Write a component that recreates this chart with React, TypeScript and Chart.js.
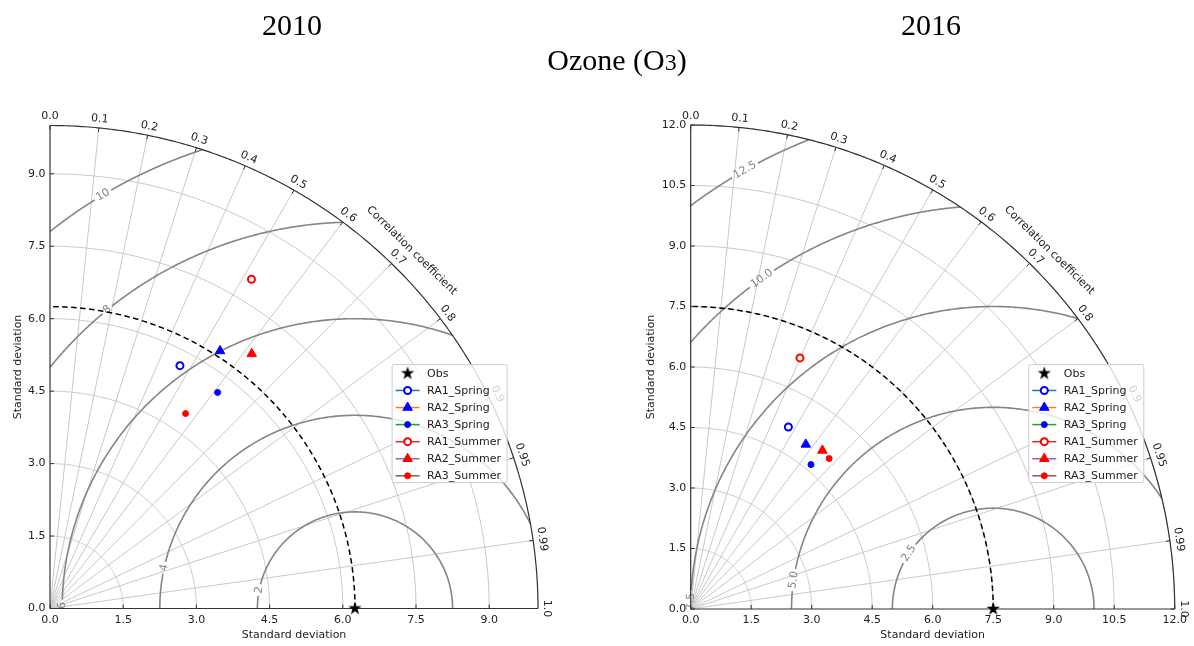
import React, { useEffect, useRef } from "react";
import { Chart, registerables } from "chart.js";
Chart.register(...registerables);

// ---------------- data ----------------
const SERIES_NAMES = ["RA1_Spring", "RA2_Spring", "RA3_Spring", "RA1_Summer", "RA2_Summer", "RA3_Summer"];
const OBS_NAME = "Obs";

const STD_2010 = [5.69, 6.37, 5.64, 7.97, 6.7, 4.9];
const CORR_2010 = [0.468, 0.547, 0.609, 0.518, 0.617, 0.567];
const OBS_STD_2010 = 6.25;

const STD_2016 = [5.12, 4.98, 4.66, 6.79, 5.11, 5.07];
const CORR_2016 = [0.473, 0.573, 0.64, 0.399, 0.639, 0.677];
const OBS_STD_2016 = 7.5;

const CORR_TICKS = [0, 0.1, 0.2, 0.3, 0.4, 0.5, 0.6, 0.7, 0.8, 0.9, 0.95, 0.99, 1.0];
const CORR_TICK_TEXT = ["0.0", "0.1", "0.2", "0.3", "0.4", "0.5", "0.6", "0.7", "0.8", "0.9", "0.95", "0.99", "1.0"];

const STD_MAX_2010 = 10;
const STD_TICKS_2010 = [0, 1.5, 3.0, 4.5, 6.0, 7.5, 9.0];
const STD_MAX_2016 = 12;
const STD_TICKS_2016 = [0, 1.5, 3.0, 4.5, 6.0, 7.5, 9.0, 10.5, 12.0];

const RMS_LEVELS_2010 = [2, 4, 6, 8, 10];
const RMS_TEXT_2010 = ["2", "4", "6", "8", "10"];
const RMS_LEVELS_2016 = [2.5, 5.0, 7.5, 10.0, 12.5];
const RMS_TEXT_2016 = ["2.5", "5.0", "7.5", "10.0", "12.5"];

const TITLE_LEFT = "2010";
const TITLE_RIGHT = "2016";
const AXIS_TITLE = "Standard deviation";
const CORR_TITLE = "Correlation coefficient";

// ---------------- styles ----------------
const MARKER_SHAPES = ["ring", "triangle", "dot", "ring", "triangle", "dot"];
const MARKER_COLORS = ["#0000ff", "#0000ff", "#0000ff", "#ff0000", "#ff0000", "#ff0000"];
const LINE_COLORS = ["#1f77b4", "#ff7f0e", "#2ca02c", "#d62728", "#9467bd", "#8c564b"];

const W = 597;
const H = 646;
const FONT = "11px 'DejaVu Sans', sans-serif";
const TEXT_COLOR = "#222";
const GRID_COLOR = "#c8c8c8";
const CONTOUR_COLOR = "#858585";
const AXIS_COLOR = "#333333";

const CFG_2010 = {
  key: "2010",
  canvasLeft: 0,
  area: { left: 50, right: 538, top: 125.5, bottom: 608.5 },
  yTitleX: 18,
  max: STD_MAX_2010,
  stdTicks: STD_TICKS_2010,
  obs: OBS_STD_2010,
  std: STD_2010,
  corr: CORR_2010,
  rmsLevels: RMS_LEVELS_2010,
  rmsText: RMS_TEXT_2010,
  rmsLabelAngles: [169, 167.8, 179.4, 129.4, 121.1],
  legendFx: 0.7,
  legendFy: 0.506,
};

const CFG_2016 = {
  key: "2016",
  canvasLeft: 597,
  area: { left: 93.7, right: 577.7, top: 125, bottom: 609 },
  yTitleX: 54,
  max: STD_MAX_2016,
  stdTicks: STD_TICKS_2016,
  obs: OBS_STD_2016,
  std: STD_2016,
  corr: CORR_2016,
  rmsLevels: RMS_LEVELS_2016,
  rmsText: RMS_TEXT_2016,
  rmsLabelAngles: [146.6, 171.7, 178.6, 125, 119.5],
  legendFx: 0.6975,
  legendFy: 0.506,
};

function makeStar(size: number, outer: number, inner: number, color: string) {
  const c = document.createElement("canvas");
  c.width = size;
  c.height = size;
  const g = c.getContext("2d")!;
  g.fillStyle = color;
  g.beginPath();
  for (let i = 0; i < 10; i++) {
    const r = i % 2 === 0 ? outer : inner;
    const a = -Math.PI / 2 + (i * Math.PI) / 5;
    const x = size / 2 + r * Math.cos(a);
    const y = size / 2 + r * Math.sin(a);
    if (i === 0) g.moveTo(x, y);
    else g.lineTo(x, y);
  }
  g.closePath();
  g.fill();
  return c;
}

function drawMarker(ctx: CanvasRenderingContext2D, shape: string, color: string, x: number, y: number, star: HTMLCanvasElement) {
  ctx.save();
  if (shape === "star") {
    ctx.drawImage(star, x - star.width / 2, y - star.height / 2);
  } else if (shape === "ring") {
    ctx.beginPath();
    ctx.arc(x, y, 3.5, 0, Math.PI * 2);
    ctx.fillStyle = "#fff";
    ctx.fill();
    ctx.lineWidth = 2;
    ctx.strokeStyle = color;
    ctx.stroke();
  } else if (shape === "triangle") {
    const r = 5.5;
    ctx.beginPath();
    ctx.moveTo(x, y - r);
    ctx.lineTo(x + r * Math.sin((2 * Math.PI) / 3), y - r * Math.cos((2 * Math.PI) / 3));
    ctx.lineTo(x + r * Math.sin((4 * Math.PI) / 3), y - r * Math.cos((4 * Math.PI) / 3));
    ctx.closePath();
    ctx.fillStyle = color;
    ctx.fill();
    ctx.lineWidth = 1;
    ctx.strokeStyle = color;
    ctx.stroke();
  } else {
    ctx.beginPath();
    ctx.arc(x, y, 3, 0, Math.PI * 2);
    ctx.fillStyle = color;
    ctx.fill();
    ctx.lineWidth = 1;
    ctx.strokeStyle = color;
    ctx.stroke();
  }
  ctx.restore();
}

function makeTaylorPlugin(cfg: any, star: HTMLCanvasElement) {
  return {
    id: "taylor" + cfg.key,
    beforeDatasetsDraw(chart: any) {
      const ctx: CanvasRenderingContext2D = chart.ctx;
      const xs = chart.scales.x;
      const ys = chart.scales.y;
      const R = cfg.max;
      const sx = (xs.right - xs.left) / R;
      const sy = (ys.bottom - ys.top) / R;
      const P = (x: number, y: number) => [xs.getPixelForValue(x), ys.getPixelForValue(y)];
      const polyline = (pts: number[][]) => {
        ctx.beginPath();
        pts.forEach(([a, b], i) => (i ? ctx.lineTo(a, b) : ctx.moveTo(a, b)));
        ctx.stroke();
      };
      const arcPts = (cx: number, r: number, a0: number, a1: number, n: number) => {
        const pts: number[][] = [];
        for (let i = 0; i <= n; i++) {
          const a = a0 + ((a1 - a0) * i) / n;
          pts.push(P(cx + r * Math.cos(a), r * Math.sin(a)));
        }
        return pts;
      };

      ctx.save();
      // std-dev grid arcs
      ctx.strokeStyle = GRID_COLOR;
      ctx.lineWidth = 1;
      cfg.stdTicks.forEach((s: number) => {
        if (s <= 0) return;
        polyline(arcPts(0, s, 0, Math.PI / 2, 180));
      });
      // radial correlation lines
      CORR_TICKS.forEach((c) => {
        if (c <= 0 || c >= 1) return;
        const t = Math.acos(c);
        polyline([P(0, 0), P(R * Math.cos(t), R * Math.sin(t))]);
      });

      // RMS contours
      ctx.font = FONT;
      ctx.strokeStyle = CONTOUR_COLOR;
      ctx.lineWidth = 1.6;
      const obs = cfg.obs;
      const pxu = (sx + sy) / 2;
      cfg.rmsLevels.forEach((r: number, k: number) => {
        const text = cfg.rmsText[k];
        const cmin = (R * R - obs * obs - r * r) / (2 * obs * r);
        const phiMin = cmin >= 1 ? 0 : cmin <= -1 ? Math.PI : Math.acos(cmin);
        const cmax = -obs / r;
        const phiMax = cmax <= -1 ? Math.PI : Math.acos(cmax);
        const lab = (cfg.rmsLabelAngles[k] * Math.PI) / 180;
        const tw = ctx.measureText(text).width;
        const gap = (tw / 2 + 2.5) / (r * pxu);
        const segs = [
          [phiMin, Math.min(phiMax, lab - gap)],
          [Math.max(phiMin, lab + gap), phiMax],
        ];
        segs.forEach(([a, b]) => {
          if (b > a) polyline(arcPts(obs, r, a, b, 240));
        });
        const [lx, ly] = P(obs + r * Math.cos(lab), r * Math.sin(lab));
        let ang = Math.atan2(-Math.cos(lab) * sy, -Math.sin(lab) * sx);
        if (ang > Math.PI / 2) ang -= Math.PI;
        if (ang < -Math.PI / 2) ang += Math.PI;
        ctx.save();
        ctx.translate(lx, ly);
        ctx.rotate(ang);
        ctx.fillStyle = CONTOUR_COLOR;
        ctx.textAlign = "center";
        ctx.textBaseline = "middle";
        ctx.fillText(text, 0, 0);
        ctx.restore();
      });

      // dashed reference arc
      ctx.strokeStyle = "#000";
      ctx.lineWidth = 1.5;
      ctx.setLineDash([5.5, 3.5]);
      polyline(arcPts(0, obs, 0, Math.PI / 2, 180));
      ctx.setLineDash([]);

      // outer arc and axes
      ctx.strokeStyle = AXIS_COLOR;
      ctx.lineWidth = 1.2;
      polyline(arcPts(0, R, 0, Math.PI / 2, 240));
      polyline([P(0, 0), P(R, 0)]);
      polyline([P(0, 0), P(0, R)]);

      // inward ticks
      ctx.lineWidth = 1;
      cfg.stdTicks.forEach((v: number) => {
        const [x0, y0] = P(v, 0);
        polyline([[x0, y0], [x0, y0 - 4]]);
        const [x1, y1] = P(0, v);
        polyline([[x1, y1], [x1 + 4, y1]]);
      });
      ctx.fillStyle = TEXT_COLOR;
      ctx.textAlign = "center";
      ctx.textBaseline = "middle";
      CORR_TICKS.forEach((c, i) => {
        const t = Math.acos(c);
        const [px, py] = P(R * Math.cos(t), R * Math.sin(t));
        const nx = Math.cos(t);
        const ny = -Math.sin(t);
        polyline([[px, py], [px - nx * 4, py - ny * 4]]);
        ctx.save();
        ctx.translate(px + nx * 9, py + ny * 9);
        ctx.rotate(Math.PI / 2 - t);
        ctx.fillText(CORR_TICK_TEXT[i], 0, 0);
        ctx.restore();
      });

      // correlation title
      const ct = Math.PI / 4;
      const [tx, ty] = P(1.048 * R * Math.cos(ct), 1.048 * R * Math.sin(ct));
      ctx.save();
      ctx.translate(tx, ty);
      ctx.rotate((44.5 * Math.PI) / 180);
      ctx.fillText(CORR_TITLE, 0, 0);
      ctx.restore();
      ctx.restore();
    },
    afterDatasetsDraw(chart: any) {
      const ctx: CanvasRenderingContext2D = chart.ctx;
      const ca = chart.chartArea;
      const lx = ca.left + cfg.legendFx * (ca.right - ca.left);
      const ly = ca.bottom - cfg.legendFy * (ca.bottom - ca.top);
      const w = 115;
      const h = 118;
      ctx.save();
      ctx.beginPath();
      ctx.roundRect(lx + 0.5, ly + 0.5, w, h, 2);
      ctx.fillStyle = "rgba(255,255,255,0.8)";
      ctx.fill();
      ctx.strokeStyle = "#cccccc";
      ctx.lineWidth = 1;
      ctx.stroke();
      ctx.font = FONT;
      ctx.textAlign = "left";
      ctx.textBaseline = "middle";
      chart.data.datasets.forEach((ds: any, i: number) => {
        const cy = ly + 9.3 + i * 17.07;
        if (ds.legendLine) {
          ctx.strokeStyle = ds.legendLine;
          ctx.lineWidth = 1.5;
          ctx.beginPath();
          ctx.moveTo(lx + 4, cy);
          ctx.lineTo(lx + 28, cy);
          ctx.stroke();
        }
        drawMarker(ctx, ds.legendShape, ds.legendColor, lx + 16, cy, star);
        ctx.fillStyle = TEXT_COLOR;
        ctx.fillText(ds.label, lx + 35.5, cy + 0.5);
      });
      ctx.restore();
    },
  };
}

function TaylorChart({ cfg }: { cfg: any }) {
  const ref = useRef<HTMLCanvasElement>(null);
  useEffect(() => {
    const canvas = ref.current!;
    const star = makeStar(16, 7, 2.7, "#000");
    const area = cfg.area;
    const yAxisW = 50;
    const padLeft = area.left - yAxisW;
    const padRight = W - area.right;
    const xAxisH = H - area.bottom;
    const yTitlePad = Math.max(0, cfg.yTitleX - padLeft - 6.6);

    const datasets: any[] = [
      {
        label: OBS_NAME,
        data: [{ x: cfg.obs, y: 0 }],
        pointStyle: star,
        pointRadius: 7,
        clip: false,
        legendShape: "star",
        legendColor: "#000",
        legendLine: null,
      },
    ];
    SERIES_NAMES.forEach((name, i) => {
      const s = cfg.std[i];
      const c = cfg.corr[i];
      const shape = MARKER_SHAPES[i];
      const col = MARKER_COLORS[i];
      const base: any = {
        label: name,
        data: [{ x: s * c, y: s * Math.sqrt(1 - c * c) }],
        clip: false,
        legendShape: shape,
        legendColor: col,
        legendLine: LINE_COLORS[i],
        borderColor: col,
        pointBorderColor: col,
      };
      if (shape === "ring") {
        Object.assign(base, { pointStyle: "circle", pointRadius: 3.5, pointBorderWidth: 2, borderWidth: 2, pointBackgroundColor: "#fff", backgroundColor: "#fff" });
      } else if (shape === "triangle") {
        Object.assign(base, { pointStyle: "triangle", pointRadius: 5.5, pointBorderWidth: 1, borderWidth: 1, pointBackgroundColor: col, backgroundColor: col });
      } else {
        Object.assign(base, { pointStyle: "circle", pointRadius: 3, pointBorderWidth: 1, borderWidth: 1, pointBackgroundColor: col, backgroundColor: col });
      }
      datasets.push(base);
    });

    const tickFont = { family: "'DejaVu Sans', sans-serif", size: 11 };
    const chart = new Chart(canvas, {
      type: "scatter",
      data: { datasets },
      options: {
        responsive: false,
        animation: false,
        devicePixelRatio: 1,
        events: [],
        layout: { padding: { left: padLeft, right: padRight, top: area.top, bottom: 0 } },
        plugins: { legend: { display: false }, tooltip: { enabled: false }, title: { display: false } },
        scales: {
          x: {
            type: "linear",
            min: 0,
            max: cfg.max,
            afterBuildTicks: (s: any) => {
              s.ticks = cfg.stdTicks.map((v: number) => ({ value: v }));
            },
            afterFit: (s: any) => {
              s.height = xAxisH;
            },
            grid: { display: false, drawTicks: false },
            border: { display: false },
            ticks: { color: TEXT_COLOR, font: tickFont, padding: 5, maxRotation: 0, autoSkip: false, callback: (v: any) => Number(v).toFixed(1) },
            title: { display: true, text: AXIS_TITLE, color: TEXT_COLOR, font: tickFont, padding: { top: 0, bottom: 3.9 } },
          },
          y: {
            type: "linear",
            min: 0,
            max: cfg.max,
            afterBuildTicks: (s: any) => {
              s.ticks = cfg.stdTicks.map((v: number) => ({ value: v }));
            },
            afterFit: (s: any) => {
              s.width = yAxisW;
            },
            grid: { display: false, drawTicks: false },
            border: { display: false },
            ticks: { color: TEXT_COLOR, font: tickFont, padding: 4.5, autoSkip: false, callback: (v: any) => Number(v).toFixed(1) },
            title: { display: true, text: AXIS_TITLE, color: TEXT_COLOR, font: tickFont, padding: { top: yTitlePad, bottom: 0 } },
          },
        },
      } as any,
      plugins: [makeTaylorPlugin(cfg, star)],
    });
    return () => chart.destroy();
  }, [cfg]);
  return (
    <canvas
      ref={ref}
      width={W}
      height={H}
      style={{ position: "absolute", left: cfg.canvasLeft, top: 0, width: W, height: H }}
    />
  );
}

const serif = "'Liberation Serif', 'Times New Roman', serif";

export default function App() {
  return (
    <div style={{ position: "absolute", left: 0, top: 0, width: 1194, height: 646, background: "#fff", overflow: "hidden" }}>
      <TaylorChart cfg={CFG_2010} />
      <TaylorChart cfg={CFG_2016} />
      <div style={{ position: "absolute", left: 192, width: 200, top: 10, textAlign: "center", fontFamily: serif, fontSize: 30, lineHeight: "30px", color: "#000" }}>
        {TITLE_LEFT}
      </div>
      <div style={{ position: "absolute", left: 831, width: 200, top: 10, textAlign: "center", fontFamily: serif, fontSize: 30, lineHeight: "30px", color: "#000" }}>
        {TITLE_RIGHT}
      </div>
      <div style={{ position: "absolute", left: 417, width: 400, top: 45, textAlign: "center", fontFamily: serif, fontSize: 30, lineHeight: "30px", color: "#000" }}>
        Ozone (O<span style={{ fontSize: "0.8em" }}>3</span>)
      </div>
    </div>
  );
}
